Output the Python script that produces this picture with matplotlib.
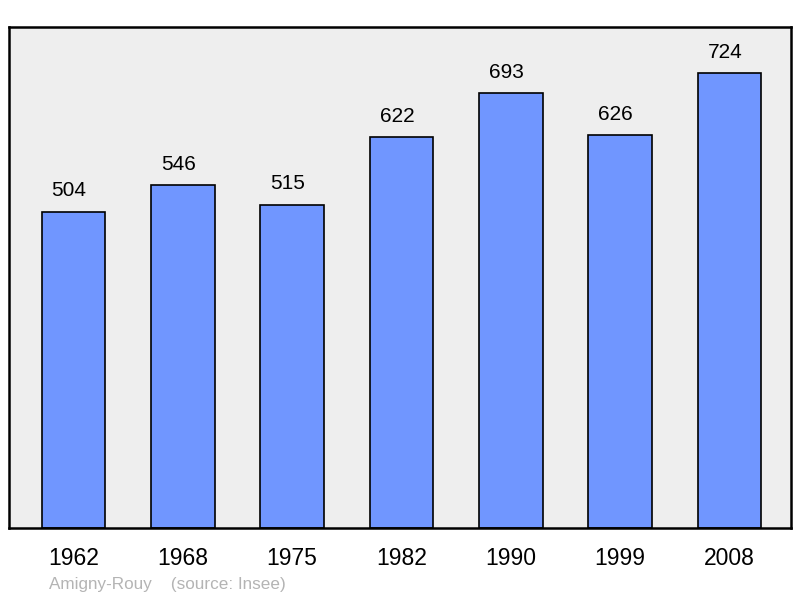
import matplotlib
matplotlib.use('Agg')
import matplotlib.pyplot as plt

# population data
years = ['1962', '1968', '1975', '1982', '1990', '1999', '2008']
population = [504, 546, 515, 622, 693, 626, 724]
town = 'Amigny-Rouy'

plt.rcParams['font.family'] = ['Liberation Sans', 'DejaVu Sans']

fig = plt.figure(figsize=(8, 5.98), dpi=100)
ax = fig.add_axes([9/800, 70/598, 782/800, 501/598])
ax.set_facecolor('#eeeeee')

x = range(len(years))
ax.bar(x, population, width=0.58, color='#7096ff', edgecolor='black', linewidth=1.2, zorder=2)

for i, v in enumerate(population):
    ax.text(i - 0.04, v + 33, str(v), ha='center', va='center', fontsize=15)

ax.set_xlim(-0.59, 6.563)
ax.set_ylim(0, 798)
ax.set_yticks([])
ax.set_xticks(list(x))
ax.set_xticklabels(years, fontsize=16.5)
ax.tick_params(axis='x', length=0, pad=14)
for s in ax.spines.values():
    s.set_linewidth(1.8)

fig.text(49/800, 1 - 584/598, town + '    (source: Insee)', fontsize=12.3, color='#b4b4b4',
         ha='left', va='center')

fig.savefig('out.png', dpi=100)
